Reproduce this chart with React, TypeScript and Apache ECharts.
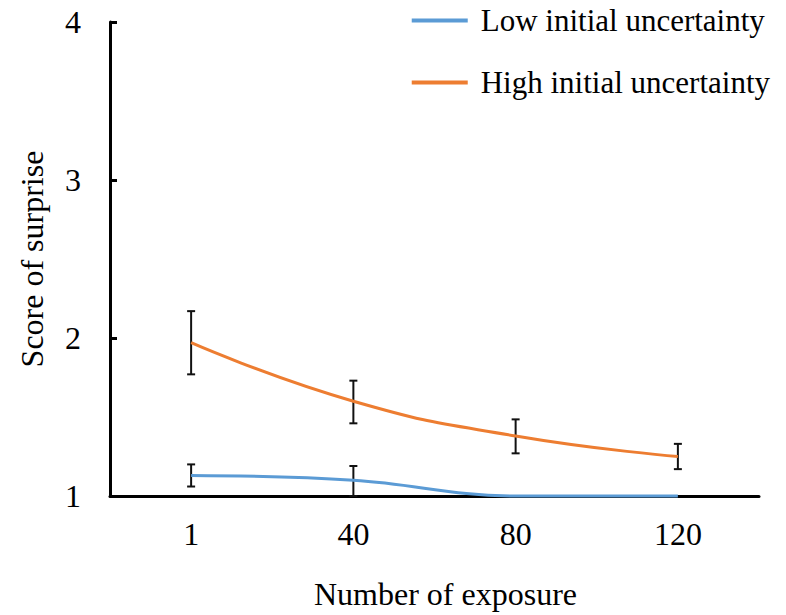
import React, { useEffect, useRef } from "react";
import * as echarts from "echarts";

const categories = ["1", "40", "80", "120"];
const lowMean = [1.13, 1.1, 1.0, 1.0];
const lowUpper = [1.2, 1.19];
const lowLower = [1.06, 1.0];
const highMean = [1.97, 1.6, 1.38, 1.25];
const highUpper = [2.17, 1.73, 1.485, 1.33];
const highLower = [1.77, 1.46, 1.27, 1.17];
const yTicks = [1, 2, 3, 4];

const FONT = "'Liberation Serif', 'Times New Roman', serif";
const FS = 32;
const BLUE = "#5B9BD5";
const ORANGE = "#ED7D31";

export default function App() {
  const ref = useRef<HTMLDivElement>(null);
  useEffect(() => {
    if (!ref.current) return;
    const chart = echarts.init(ref.current, null, { renderer: "svg" });
    const errData: number[][] = [];
    highUpper.forEach((u, i) => errData.push([i, highLower[i], u]));
    lowUpper.forEach((u, i) => errData.push([i, lowLower[i], u]));
    chart.setOption({
      animation: false,
      backgroundColor: "#fff",
      textStyle: { fontFamily: FONT },
      grid: { left: 110, right: 27, top: 22, bottom: 115, containLabel: false },
      legend: {
        orient: "vertical",
        right: 11,
        top: 0,
        itemWidth: 56,
        itemHeight: 4,
        itemGap: 31,
        icon: "rect",
        textStyle: { fontFamily: FONT, fontSize: 31, color: "#000", padding: [0, 0, 0, 8] },
        data: ["Low initial uncertainty", "High initial uncertainty"],
      },
      xAxis: {
        type: "category",
        data: categories,
        boundaryGap: true,
        name: "Number of exposure",
        nameLocation: "middle",
        nameGap: 82,
        nameTextStyle: { fontFamily: FONT, fontSize: FS, color: "#000", padding: [0, 0, 0, 22] },
        axisLine: { lineStyle: { color: "#000", width: 3 } },
        axisTick: { show: false },
        axisLabel: { fontFamily: FONT, fontSize: FS, color: "#000", margin: 22 },
        splitLine: { show: false },
      },
      yAxis: {
        type: "value",
        min: yTicks[0],
        max: yTicks[yTicks.length - 1],
        interval: 1,
        name: "Score of surprise",
        nameLocation: "middle",
        nameGap: 62,
        nameTextStyle: { fontFamily: FONT, fontSize: FS, color: "#000" },
        axisLine: { show: true, lineStyle: { color: "#000", width: 3 } },
        axisTick: { show: true, inside: true, length: 7, lineStyle: { color: "#000", width: 3 } },
        axisLabel: { fontFamily: FONT, fontSize: FS, color: "#000", margin: 29 },
        splitLine: { show: false },
      },
      series: [
        {
          type: "custom",
          name: "err",
          z: 1,
          clip: false,
          data: errData,
          renderItem: (params: any, api: any) => {
            const x = api.value(0);
            const lo = api.coord([x, api.value(1)]);
            const hi = api.coord([x, api.value(2)]);
            const hw = 4;
            const style = { stroke: "#111", lineWidth: 2 };
            return {
              type: "group",
              children: [
                { type: "line", shape: { x1: lo[0], y1: lo[1], x2: hi[0], y2: hi[1] }, style },
                { type: "line", shape: { x1: lo[0] - hw, y1: lo[1], x2: lo[0] + hw, y2: lo[1] }, style },
                { type: "line", shape: { x1: hi[0] - hw, y1: hi[1], x2: hi[0] + hw, y2: hi[1] }, style },
              ],
            };
          },
        },
        {
          type: "line",
          name: "Low initial uncertainty",
          data: lowMean,
          smooth: 0.4,
          symbol: "none",
          clip: false,
          z: 3,
          color: BLUE,
          lineStyle: { color: BLUE, width: 3 },
        },
        {
          type: "line",
          name: "High initial uncertainty",
          data: highMean,
          smooth: 0.5,
          symbol: "none",
          clip: false,
          z: 3,
          color: ORANGE,
          lineStyle: { color: ORANGE, width: 3 },
        },
      ],
    });
    return () => chart.dispose();
  }, []);
  return <div ref={ref} style={{ width: 786, height: 615, position: "absolute", left: 0, top: 0 }} />;
}
